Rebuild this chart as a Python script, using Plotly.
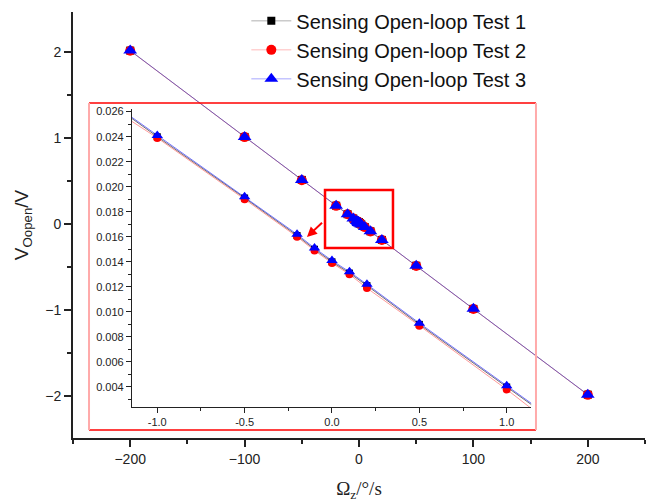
import plotly.graph_objects as go

# ---- data ----
omega = [-200, -100, -50, -20, -10, -5, -2, -1, -0.5, -0.2, -0.1, 0, 0.1, 0.2, 0.5, 1, 2, 5, 10, 20, 50, 100, 200]
v_test1 = [2.016, 1.012, 0.512, 0.212, 0.113, 0.063, 0.034, 0.0240, 0.0191, 0.0161, 0.0150, 0.0140, 0.0131, 0.0121,
           0.0090, 0.0040, -0.006, -0.036, -0.086, -0.186, -0.486, -0.988, -1.986]
v_test2 = [2.014, 1.010, 0.508, 0.210, 0.112, 0.062, 0.033, 0.0239, 0.0190, 0.0160, 0.0149, 0.0139, 0.0130, 0.0119,
           0.0089, 0.0038, -0.007, -0.037, -0.087, -0.187, -0.488, -0.990, -1.988]
v_test3 = [2.016, 1.012, 0.512, 0.212, 0.113, 0.063, 0.034, 0.0241, 0.0192, 0.0162, 0.0151, 0.0141, 0.0132, 0.0122,
           0.0091, 0.0041, -0.006, -0.036, -0.086, -0.186, -0.486, -0.988, -1.986]
names = ["Sensing Open-loop Test 1", "Sensing Open-loop Test 2", "Sensing Open-loop Test 3"]
series = [v_test1, v_test2, v_test3]
colors = ["black", "red", "blue"]
line_colors_main = ["rgba(0,0,0,0.45)", "rgba(255,0,0,0.4)", "rgba(0,0,255,0.5)"]
line_colors_inset = ["rgba(0,0,0,0.7)", "rgba(255,0,0,0.5)", "rgba(0,0,255,0.7)"]
symbols = ["square", "circle", "triangle-up"]
main_sizes = [8, 10, 12]
inset_sizes = [7, 8, 10]

main_xticks = [-200, -100, 0, 100, 200]
main_yticks = [-2, -1, 0, 1, 2]
inset_xticks = [-1.0, -0.5, 0.0, 0.5, 1.0]
inset_yticks = [0.004, 0.006, 0.008, 0.010, 0.012, 0.014, 0.016, 0.018, 0.020, 0.022, 0.024, 0.026]

fig = go.Figure()
for name, v, c, lc, s, ms in zip(names, series, colors, line_colors_main, symbols, main_sizes):
    fig.add_trace(go.Scatter(x=omega, y=v, name=name, mode="lines+markers",
                             line=dict(color=lc, width=0.7),
                             marker=dict(color=c, symbol=s, size=ms, line=dict(width=0)),
                             xaxis="x", yaxis="y"))
for name, v, c, lc, s, ms in zip(names, series, colors, line_colors_inset, symbols, inset_sizes):
    fig.add_trace(go.Scatter(x=omega, y=v, name=name, mode="lines+markers", showlegend=False,
                             line=dict(color=lc, width=0.8),
                             marker=dict(color=c, symbol=s, size=ms, line=dict(width=0)),
                             xaxis="x2", yaxis="y2"))

axis_common = dict(showgrid=False, zeroline=False, showline=True, linecolor="#222", ticks="outside",
                   tickcolor="#222", color="#222")

fig.update_layout(
    width=656, height=502,
    margin=dict(l=73, r=11, t=12, b=64, autoexpand=False),
    paper_bgcolor="white", plot_bgcolor="rgba(0,0,0,0)",
    font=dict(family="Liberation Sans, Arial", color="#222"),
    xaxis=dict(**axis_common, range=[-250, 250], tickvals=main_xticks, ticklen=7, tickwidth=1.5,
               linewidth=1.8, tickfont=dict(size=14),
               minor=dict(dtick=50, ticks="outside", ticklen=4, tickcolor="#222"),
               title=dict(text="Ω<sub>z</sub>/°/s", font=dict(family="Liberation Serif, Times New Roman", size=19),
                          standoff=16)),
    yaxis=dict(**axis_common, range=[-2.49, 2.465], tickvals=main_yticks, ticklen=7, tickwidth=1.5,
               linewidth=1.8, tickfont=dict(size=14),
               minor=dict(dtick=0.5, ticks="outside", ticklen=4, tickcolor="#222"),
               title=dict(text="V<sub>Oopen</sub>/V", font=dict(size=19), standoff=12)),
    xaxis2=dict(**axis_common, domain=[0.103, 0.801], anchor="y2", range=[-1.145, 1.14],
                tickvals=inset_xticks, ticktext=["-1.0", "-0.5", "0.0", "0.5", "1.0"], ticklen=5,
                tickfont=dict(size=11), linewidth=1,
                minor=dict(dtick=0.25, tick0=0, ticks="outside", ticklen=3, tickcolor="#222")),
    yaxis2=dict(**axis_common, domain=[0.0728, 0.772], anchor="x2", range=[0.0024, 0.0262],
                tickvals=inset_yticks, tickformat=".3f", ticklen=5, tickfont=dict(size=11), linewidth=1,
                minor=dict(dtick=0.001, tick0=0, ticks="outside", ticklen=3, tickcolor="#222")),
    legend=dict(x=0.303, y=1.025, xanchor="left", yanchor="top", bgcolor="rgba(0,0,0,0)",
                font=dict(size=20, color="#111"), tracegroupgap=0, itemwidth=40),
    showlegend=True,
)

# inset frame
fx0, fx1, fy0, fy1 = 0.028, 0.8094, 0.0188, 0.7864
fig.add_shape(type="line", xref="paper", yref="paper", x0=fx0, x1=fx1, y0=fy1, y1=fy1, line=dict(color="red", width=1.5))
fig.add_shape(type="line", xref="paper", yref="paper", x0=fx0, x1=fx1, y0=fy0, y1=fy0, line=dict(color="red", width=1.5))
fig.add_shape(type="line", xref="paper", yref="paper", x0=fx0, x1=fx0, y0=fy0, y1=fy1, line=dict(color="#ffaaaa", width=2))
fig.add_shape(type="line", xref="paper", yref="paper", x0=fx1, x1=fx1, y0=fy0, y1=fy1, line=dict(color="#ffaaaa", width=2))

# highlight box and arrow on main axes
fig.add_shape(type="rect", xref="x", yref="y", x0=-29.7, x1=29.7, y0=-0.279, y1=0.395,
              line=dict(color="red", width=2.5))
fig.add_annotation(x=-45.5, y=-0.151, ax=-29.7, ay=0.047, xref="x", yref="y", axref="x", ayref="y",
                   showarrow=True, arrowhead=2, arrowsize=1, arrowwidth=2, arrowcolor="red", text=" ")

fig.write_html("out.html")
